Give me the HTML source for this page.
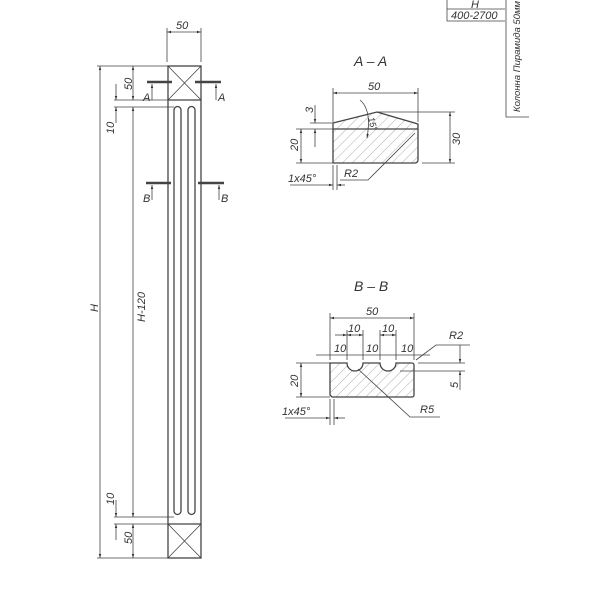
<!DOCTYPE html>
<html><head><meta charset="utf-8"><style>
body{margin:0;background:#fff}
svg{display:block}
text{font-family:"Liberation Sans",sans-serif;font-style:italic;fill:#333;font-size:11px}
</style></head><body>
<svg width="600" height="600" viewBox="0 0 600 600" xmlns="http://www.w3.org/2000/svg">
<defs>
<marker id="a" viewBox="0 0 10 10" refX="10" refY="5" markerWidth="7" markerHeight="5" orient="auto-start-reverse"><path d="M0,2L10,5L0,8z" fill="#333"/></marker>
<pattern id="h" width="7" height="7" patternUnits="userSpaceOnUse" patternTransform="rotate(45)"><line x1="0" y1="0" x2="0" y2="7" stroke="#999" stroke-width="0.8"/></pattern>
</defs>
<g stroke="#444" fill="none" stroke-width="1.3">
<rect x="168" y="66" width="33" height="492"/>
<line x1="168" y1="100" x2="201" y2="100"/><line x1="168" y1="524" x2="201" y2="524"/>
<path d="M168,66L201,100M201,66L168,100M168,524L201,558M201,524L168,558" stroke-width="0.8"/>
<path d="M174,511V110a3.5,3.5 0 0 1 7,0V511a3.5,3.5 0 0 1 -7,0z"/>
<path d="M188,511V110a3.5,3.5 0 0 1 7,0V511a3.5,3.5 0 0 1 -7,0z"/>
<g stroke-width="2.5"><line x1="147" y1="82" x2="172" y2="82"/><line x1="195" y1="82" x2="221" y2="82"/><line x1="146" y1="183" x2="171" y2="183"/><line x1="198" y1="183" x2="224" y2="183"/></g>
</g>
<g stroke="#444" stroke-width="0.8" fill="none">
<line x1="152" y1="100" x2="152" y2="84" marker-end="url(#a)"/><line x1="216" y1="100" x2="216" y2="84" marker-end="url(#a)"/>
<line x1="152" y1="200" x2="152" y2="185" marker-end="url(#a)"/><line x1="219" y1="200" x2="219" y2="185" marker-end="url(#a)"/>
<path d="M97,66H168M97,558H168M114,100H168M114,107H174M114,517H174M114,524H168M167,28V62M201,28V62"/>
<line x1="100" y1="66" x2="100" y2="558" marker-start="url(#a)" marker-end="url(#a)"/>
<line x1="133" y1="66" x2="133" y2="100" marker-start="url(#a)" marker-end="url(#a)"/>
<line x1="133" y1="107" x2="133" y2="517" marker-start="url(#a)" marker-end="url(#a)"/>
<line x1="133" y1="524" x2="133" y2="558" marker-start="url(#a)" marker-end="url(#a)"/>
<line x1="116" y1="84" x2="116" y2="100" marker-end="url(#a)"/><line x1="116" y1="123" x2="116" y2="107" marker-end="url(#a)"/>
<line x1="116" y1="500" x2="116" y2="517" marker-end="url(#a)"/><line x1="116" y1="540" x2="116" y2="524" marker-end="url(#a)"/>
<line x1="167" y1="32" x2="201" y2="32" marker-start="url(#a)" marker-end="url(#a)"/>
<path d="M447,0V21H505M447,9H505M506,0V117H529"/>
</g>
<path d="M333,129V123L377,112L418,124V160a3,3 0 0 1 -3,3H333Z" fill="url(#h)" stroke="#444" stroke-width="1.3"/>
<line x1="333" y1="129" x2="418" y2="129" stroke="#444" stroke-width="1.3"/>
<g stroke="#444" stroke-width="0.8" fill="none">
<path d="M333,88V122M418,88V122M377,112H455M422,163H455M296,129H333M296,163H333M310,123H333M333,165V190M337,165V190M415,133L368,180H340"/>
<line x1="333" y1="93" x2="418" y2="93" marker-start="url(#a)" marker-end="url(#a)"/>
<line x1="450" y1="112" x2="450" y2="163" marker-start="url(#a)" marker-end="url(#a)"/>
<line x1="301" y1="129" x2="301" y2="163" marker-start="url(#a)" marker-end="url(#a)"/>
<line x1="315" y1="105" x2="315" y2="123" marker-end="url(#a)"/><line x1="315" y1="147" x2="315" y2="129" marker-end="url(#a)"/>
<line x1="290" y1="185" x2="333" y2="185" marker-end="url(#a)"/><line x1="345" y1="185" x2="337" y2="185" marker-end="url(#a)"/>
<path d="M360,100Q372,110 367,138" marker-end="url(#a)"/>
</g>
<path d="M330,363H347A8,8 0 0 0 363,363H380A8,8 0 0 0 396,363H412a2,2 0 0 1 2,2V395a2,2 0 0 1 -2,2H332L330,395Z" fill="url(#h)" stroke="#444" stroke-width="1.3"/>
<g stroke="#444" stroke-width="0.8" fill="none">
<path d="M330,313V360M414,313V360M347,330V360M363,330V360M380,330V360M396,330V360M296,363H330M296,397H330M418,363H465M400,371H465M330,399V425M334,399V425M416,360L436,345L470,345M358,369L410,417H440"/>
<line x1="330" y1="318" x2="414" y2="318" marker-start="url(#a)" marker-end="url(#a)"/>
<line x1="335" y1="335" x2="347" y2="335" marker-end="url(#a)"/><line x1="347" y1="335" x2="363" y2="335" marker-start="url(#a)" marker-end="url(#a)"/><line x1="380" y1="335" x2="396" y2="335" marker-start="url(#a)" marker-end="url(#a)"/>
<line x1="316" y1="355" x2="430" y2="355"/>
<line x1="301" y1="363" x2="301" y2="397" marker-start="url(#a)" marker-end="url(#a)"/>
<line x1="460" y1="345" x2="460" y2="363" marker-end="url(#a)"/><line x1="460" y1="390" x2="460" y2="371" marker-end="url(#a)"/>
<line x1="285" y1="418" x2="330" y2="418" marker-end="url(#a)"/><line x1="345" y1="418" x2="334" y2="418" marker-end="url(#a)"/>
</g>
<text x="176" y="29">50</text>
<text x="143" y="101">A</text><text x="218" y="101">A</text>
<text x="143" y="202">B</text><text x="221" y="202">B</text>
<text transform="translate(132,90) rotate(-90)">50</text>
<text transform="translate(114,134) rotate(-90)">10</text>
<text transform="translate(145,322) rotate(-90)">H-120</text>
<text transform="translate(98,312) rotate(-90)">H</text>
<text transform="translate(114,505) rotate(-90)">10</text>
<text transform="translate(132,544) rotate(-90)">50</text>
<text x="471" y="8">H</text><text x="451" y="19">400-2700</text>
<text transform="translate(520,112) rotate(-90)" style="font-size:9.5px">Колонна Пирамида 50мм</text>
<text x="354" y="66" style="font-size:14px">A – A</text>
<text x="368" y="90">50</text>
<text transform="translate(460,145) rotate(-90)">30</text>
<text transform="translate(298,151) rotate(-90)">20</text>
<text transform="translate(313,113) rotate(-90)">3</text>
<text transform="translate(368,118) rotate(75)" style="font-size:9px">15°</text>
<text x="288" y="182">1x45°</text>
<text x="344" y="177">R2</text>
<text x="354" y="291" style="font-size:14px">B – B</text>
<text x="366" y="315">50</text>
<text x="348" y="332">10</text><text x="382" y="332">10</text>
<text x="334" y="352">10</text><text x="366" y="352">10</text><text x="401" y="352">10</text>
<text x="449" y="339">R2</text>
<text transform="translate(298,387) rotate(-90)">20</text>
<text transform="translate(458,388) rotate(-90)">5</text>
<text x="282" y="415">1x45°</text>
<text x="420" y="413">R5</text>
</svg>
</body></html>
